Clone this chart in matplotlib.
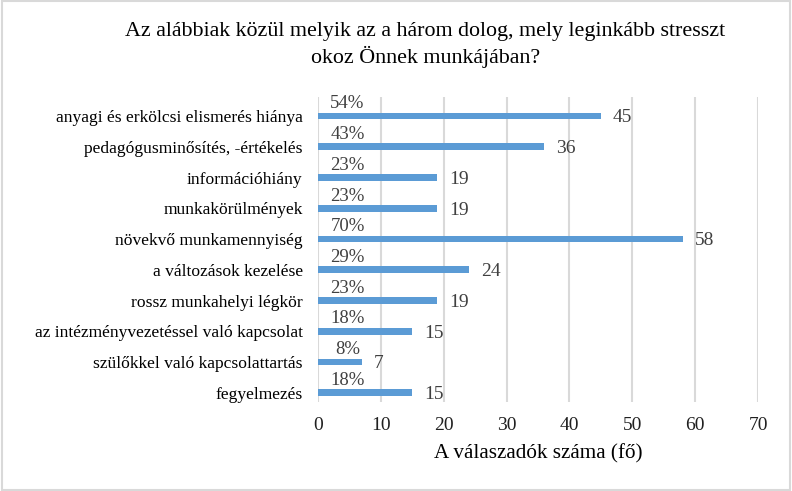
import matplotlib.pyplot as plt
from matplotlib.patches import Rectangle

plt.rcParams['font.family'] = ['Liberation Serif', 'DejaVu Serif']

# Data
categories = ['anyagi és erkölcsi elismerés hiánya', 'pedagógusminősítés, -értékelés',
              'információhiány', 'munkakörülmények', 'növekvő munkamennyiség',
              'a változások kezelése', 'rossz munkahelyi légkör',
              'az intézményvezetéssel való kapcsolat', 'szülőkkel való kapcsolattartás',
              'fegyelmezés']
counts = [45, 36, 19, 19, 58, 24, 19, 15, 7, 15]
percents = ['54%', '43%', '23%', '23%', '70%', '29%', '23%', '18%', '8%', '18%']

fig = plt.figure(figsize=(7.92, 4.91), dpi=100)
ax = fig.add_axes([318 / 792, 1 - 402 / 491, 440 / 792, 305 / 491])

ypos = list(range(len(categories)))
ax.barh(ypos, counts, height=0.22, color='#5B9BD5', zorder=3)
for y, c, p in zip(ypos, counts, percents):
    ax.text(c + 1.9, y + 0.06, str(c), va='center', ha='left', fontsize=14, color='#404040')
    ax.text(4.7, y - 0.4, p, va='center', ha='center', fontsize=13.5, color='#404040')

ax.set_xlim(0, 70)
ax.set_ylim(9.3, -0.62)
ax.set_xticks(range(0, 71, 10))
ax.set_yticks(ypos)
ax.set_yticklabels(categories)
ax.tick_params(axis='both', length=0, colors='#202020')
ax.tick_params(axis='y', labelsize=12.6, pad=11, labelcolor='black')
ax.tick_params(axis='x', labelsize=14, pad=11)
ax.grid(axis='x', color='#D9D9D9', linewidth=1.5, zorder=0)
for s in ax.spines.values():
    s.set_visible(False)
ax.set_xlabel('A válaszadók száma (fő)', fontsize=15.2, labelpad=7)

fig.text(0.537, 0.908, 'Az alábbiak közül melyik az a három dolog, mely leginkább stresszt\nokoz Önnek munkájában?',
         ha='center', va='center', fontsize=15.8, linespacing=1.25)

fig.patches.append(Rectangle((0.002, 0.003), 0.996, 0.994, transform=fig.transFigure,
                             fill=False, edgecolor='#D9D9D9', linewidth=1.5))

fig.savefig('out.png', dpi=100)
